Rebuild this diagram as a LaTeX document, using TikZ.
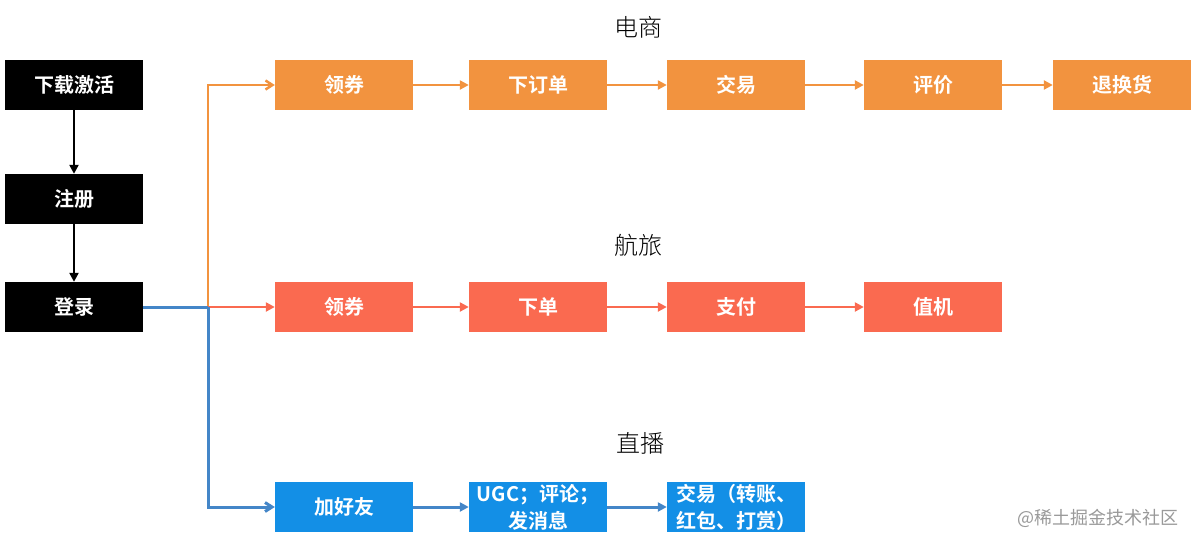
\documentclass[tikz,border=0pt]{standalone}
\usepackage{fontspec}
\setmainfont{Noto Sans CJK SC}
\newfontfamily\cjkb{Noto Sans CJK SC Bold}
\newfontfamily\cjkl{Noto Sans CJK SC Light}
\usetikzlibrary{arrows.meta}
\definecolor{eorange}{RGB}{242,147,63}
\definecolor{tred}{RGB}{250,106,80}
\definecolor{lblue}{RGB}{19,143,230}
\definecolor{lineblue}{RGB}{68,134,200}
\tikzset{
  box/.style={minimum width=138pt, minimum height=50pt, inner sep=0pt, text=white, font=\cjkb\fontsize{20}{27}\selectfont, align=center},
  blk/.style={box, fill=black},
  ob/.style={box, fill=eorange},
  rb/.style={box, fill=tred},
  bb/.style={box, fill=lblue},
  ttl/.style={font=\cjkl\fontsize{24}{28}\selectfont, text=black},
  oarr/.style={draw=eorange, line width=2.5pt, -{Triangle[length=9pt,width=9pt]}},
  rarr/.style={draw=tred, line width=2.5pt, -{Triangle[length=9pt,width=9pt]}},
  barr/.style={draw=lineblue, line width=3pt, -{Triangle[length=9pt,width=9pt]}},
  karr/.style={draw=black, line width=2.5pt, -{Triangle[length=9pt,width=9pt]}},
}
\begin{document}
\begin{tikzpicture}[x=1pt,y=-1pt]
\useasboundingbox (0,0) rectangle (1196,546);
% left column
\node[blk] (d) at (74,85) {下载激活};
\node[blk] (z) at (74,199) {注册};
\node[blk] (l) at (74,307) {登录};
\draw[karr] (d) -- (z);
\draw[karr] (z) -- (l);
% titles
\node[ttl] (t1) at (638,27) {电商};
\node[ttl] (t2) at (638,245) {航旅};
\node[ttl] (t3) at (640,443) {直播};
% orange row
\node[ob] (o1) at (344,85) {领券};
\node[ob] (o2) at (538,85) {下订单};
\node[ob] (o3) at (736,85) {交易};
\node[ob] (o4) at (933,85) {评价};
\node[ob] (o5) at (1122,85) {退换货};
% red row
\node[rb] (r1) at (344,307) {领券};
\node[rb] (r2) at (538,307) {下单};
\node[rb] (r3) at (736,307) {支付};
\node[rb] (r4) at (933,307) {值机};
% blue row
\node[bb] (b1) at (344,507) {加好友};
\node[bb] (b2) at (538,507) {UGC；评论；\\发消息};
\node[bb] (b3) at (736,507) {交易（转账、\\红包、打赏）};
% trunk
\coordinate (j) at (208,307);
\draw[draw=eorange, line width=2.5pt, -{Straight Barb[length=7pt,width=9pt]}] (j) |- (o1.west);
\draw[rarr] (j) -- (r1.west);
\draw[draw=lineblue, line width=3pt] (l.east) -- (j);
\draw[draw=lineblue, line width=3pt, -{Straight Barb[length=7pt,width=9pt]}] (j) |- (b1.west);
% row arrows
\draw[oarr] (o1) -- (o2);
\draw[oarr] (o2) -- (o3);
\draw[oarr] (o3) -- (o4);
\draw[oarr] (o4) -- (o5);
\draw[rarr] (r1) -- (r2);
\draw[rarr] (r2) -- (r3);
\draw[rarr] (r3) -- (r4);
\draw[barr] (b1) -- (b2);
\draw[barr] (b2) -- (b3);
% watermark
\node[text=black!40, font=\fontsize{18}{20}\selectfont] (wm) at (1098,518) {@稀土掘金技术社区};
\end{tikzpicture}
\end{document}
